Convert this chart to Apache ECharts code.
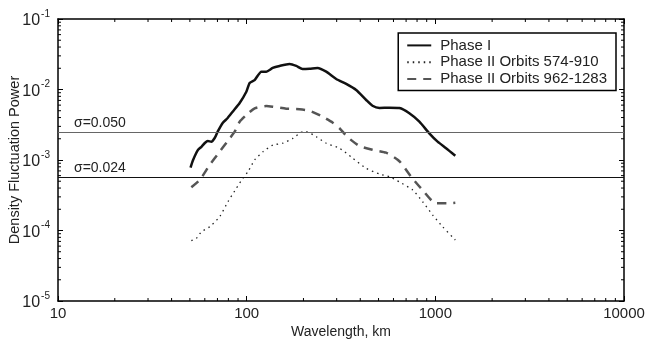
<!DOCTYPE html>
<html>
<head>
<meta charset="utf-8">
<script src="https://cdn.jsdelivr.net/npm/echarts@6/dist/echarts.min.js"></script>
<style>html,body{margin:0;padding:0;background:#fff}#c{width:645px;height:344px}</style>
</head>
<body>
<div id="c"></div>
<script>
// Wavelength (km) and density fluctuation power
const phaseI_x = [50.4, 52.0, 55.2, 57.6, 60.0, 62.2, 65.0, 67.7, 70.2, 74.6, 79.3, 84.3, 91.8, 99.6, 103.7, 110.2, 119.6, 127.1, 137.3, 149.5, 168.9, 183.2, 197.8, 215.4, 237.5, 264.0, 298.3, 337.0, 380.5, 429.8, 464.2, 505.6, 571, 645, 728, 823, 929, 1028, 1140, 1276];
const phaseI_y = [7.8e-4, 1.0e-3, 1.39e-3, 1.54e-3, 1.74e-3, 1.86e-3, 1.82e-3, 2.05e-3, 2.52e-3, 3.35e-3, 3.94e-3, 4.84e-3, 6.44e-3, 9.3e-3, 1.24e-2, 1.36e-2, 1.79e-2, 1.79e-2, 2.02e-2, 2.16e-2, 2.30e-2, 2.16e-2, 1.95e-2, 1.97e-2, 2.02e-2, 1.79e-2, 1.41e-2, 1.20e-2, 9.84e-3, 7.10e-3, 5.89e-3, 5.47e-3, 5.52e-3, 5.45e-3, 4.6e-3, 3.5e-3, 2.39e-3, 1.82e-3, 1.47e-3, 1.15e-3];

const orbitsA_x = [50.9, 54.2, 57.6, 63.7, 71.9, 79.6, 88.2, 95.5, 101.6, 110.2, 122.0, 137.8, 155.6, 175.8, 198.6, 206.9, 233.7, 264.0, 310.5, 365.0, 429.8, 505.6, 571, 645.2, 758.5, 857, 968, 1093, 1276];
const orbitsA_y = [7.16e-5, 7.75e-5, 9.62e-5, 1.13e-4, 1.57e-4, 2.56e-4, 3.97e-4, 5.50e-4, 6.83e-4, 1.0e-3, 1.31e-3, 1.63e-3, 1.73e-3, 2.03e-3, 2.52e-3, 2.52e-3, 2.14e-3, 1.73e-3, 1.47e-3, 1.06e-3, 7.62e-4, 6.33e-4, 5.79e-4, 4.88e-4, 3.75e-4, 2.56e-4, 1.66e-4, 1.13e-4, 7.33e-5];

const orbitsB_x = [50.9, 56.4, 63.7, 71.9, 81.3, 86.4, 91.8, 99.6, 110.2, 127.1, 137.8, 162.2, 190.7, 215.4, 248.4, 286.2, 310.5, 343.6, 396.2, 465.9, 548.3, 645.2, 743.6, 840, 1008, 1161, 1276];
const orbitsB_y = [4.1e-4, 5.2e-4, 8.5e-4, 1.31e-3, 2.03e-3, 2.52e-3, 3.49e-3, 4.35e-3, 5.41e-3, 5.83e-3, 5.70e-3, 5.34e-3, 5.24e-3, 5.0e-3, 4.21e-3, 3.38e-3, 2.82e-3, 2.10e-3, 1.58e-3, 1.39e-3, 1.27e-3, 9.6e-4, 5.8e-4, 3.97e-4, 2.43e-4, 2.43e-4, 2.48e-4];

const seriesNames = ['Phase I', 'Phase II Orbits 574-910', 'Phase II Orbits 962-1283'];
const sigmaLevels = [0.050, 0.024];
const sigmaColors = ['#666666', '#111111'];

const xMin = 10, xMax = 10000, yMin = 1e-5, yMax = 1e-1;

function pairs(xs, ys) { return xs.map((x, i) => [x, ys[i]]); }

// minor tick positions (2..9 within each decade)
const xMinor = [], yMinor = [];
for (let d = xMin; d < xMax; d *= 10) for (let k = 2; k <= 9; k++) xMinor.push(k * d);
for (let d = yMin; d < yMax * 0.99; d *= 10) for (let k = 2; k <= 9; k++) yMinor.push(k * d);
const minorData = [];
xMinor.forEach(v => { minorData.push([v, yMin, 0]); minorData.push([v, yMax, 1]); });
yMinor.forEach(v => { minorData.push([xMin, v, 2]); minorData.push([xMax, v, 3]); });

const font = 'Liberation Sans, Arial, Helvetica, sans-serif';
const txt = '#222';

const chart = echarts.init(document.getElementById('c'), null, {renderer: 'canvas'});

const axisCommon = {
  type: 'log', logBase: 10,
  axisLine: {show: true, lineStyle: {color: '#000', width: 1.5}},
  axisTick: {show: true, inside: true, length: 5, lineStyle: {color: '#000', width: 1}},
  splitLine: {show: false}
};

chart.setOption({
  animation: false,
  backgroundColor: '#fff',
  grid: {left: 58, right: 21, top: 19, bottom: 43, containLabel: false, outerBoundsMode: 'none'},
  legend: {
    data: seriesNames,
    orient: 'vertical',
    right: 29, top: 33,
    itemWidth: 24, itemHeight: 10, itemGap: 0,
    padding: [4, 9, 3, 8],
    borderColor: '#000', borderWidth: 1.5,
    backgroundColor: '#fff',
    itemStyle: {opacity: 0},
    textStyle: {fontFamily: font, fontSize: 15, color: txt, lineHeight: 16.8, padding: [0, 0, 0, 4]}
  },
  xAxis: [
    Object.assign({}, axisCommon, {
      min: xMin, max: xMax, position: 'bottom',
      name: 'Wavelength, km', nameLocation: 'middle', nameGap: 24, nameMoveOverlap: false,
      nameTextStyle: {fontFamily: font, fontSize: 14, color: txt, verticalAlign: 'top'},
      axisLabel: {fontFamily: font, fontSize: 15, color: txt, margin: 5,
                  formatter: function (v) { return String(Math.round(v)); }}
    }),
    Object.assign({}, axisCommon, {
      min: xMin, max: xMax, position: 'top', axisLabel: {show: false}
    })
  ],
  yAxis: [
    Object.assign({}, axisCommon, {
      min: yMin, max: yMax, position: 'left',
      name: 'Density Fluctuation Power', nameLocation: 'middle', nameGap: 36, nameMoveOverlap: false,
      nameTextStyle: {fontFamily: font, fontSize: 14.5, color: txt},
      axisLabel: {
        margin: 8,
        formatter: function (v) {
          const e = Math.round(Math.log10(v));
          return '{b|10}{s|' + e + '}';
        },
        rich: {
          b: {fontFamily: font, fontSize: 16, color: txt, lineHeight: 20, verticalAlign: 'bottom'},
          s: {fontFamily: font, fontSize: 10, color: txt, lineHeight: 20, verticalAlign: 'top', padding: [0, 0, 11, 1]}
        }
      }
    }),
    Object.assign({}, axisCommon, {
      min: yMin, max: yMax, position: 'right', axisLabel: {show: false}
    })
  ],
  series: [
    {
      name: seriesNames[0], type: 'line', data: pairs(phaseI_x, phaseI_y),
      symbol: 'none', smooth: 0.2, z: 3,
      lineStyle: {color: '#111', width: 2.5, type: 'solid'},
      itemStyle: {color: '#111'},
      markLine: {
        silent: true, symbol: ['none', 'none'], animation: false,
        data: sigmaLevels.map((s, i) => ([
          {coord: [xMin, s * s],
           lineStyle: {color: sigmaColors[i], width: 1.2, type: 'solid'},
           label: {show: true, position: 'insideStartTop', formatter: 'σ=' + s.toFixed(3),
                   fontFamily: font, fontSize: 14, color: txt, distance: [16, 2]}},
          {coord: [xMax, s * s]}
        ]))
      }
    },
    {
      name: seriesNames[1], type: 'line', data: pairs(orbitsA_x, orbitsA_y),
      symbol: 'none', smooth: 0.2, z: 3,
      lineStyle: {color: '#222', width: 1.3, type: [1.5, 4]},
      itemStyle: {color: '#222'}
    },
    {
      name: seriesNames[2], type: 'line', data: pairs(orbitsB_x, orbitsB_y),
      symbol: 'none', smooth: 0.2, z: 3,
      lineStyle: {color: '#555', width: 2.5, type: [9, 7]},
      itemStyle: {color: '#555'}
    },
    {
      type: 'custom', silent: true, clip: false, z: 5,
      data: minorData,
      renderItem: function (params, api) {
        const p = api.coord([api.value(0), api.value(1)]);
        const side = api.value(2);
        const L = 3;
        let shape;
        if (side === 0) shape = {x1: p[0], y1: p[1], x2: p[0], y2: p[1] - L};
        else if (side === 1) shape = {x1: p[0], y1: p[1], x2: p[0], y2: p[1] + L};
        else if (side === 2) shape = {x1: p[0], y1: p[1], x2: p[0] + L, y2: p[1]};
        else shape = {x1: p[0], y1: p[1], x2: p[0] - L, y2: p[1]};
        return {type: 'line', shape: shape, style: {stroke: '#000', lineWidth: 1}};
      }
    }
  ]
});
</script>
</body>
</html>
